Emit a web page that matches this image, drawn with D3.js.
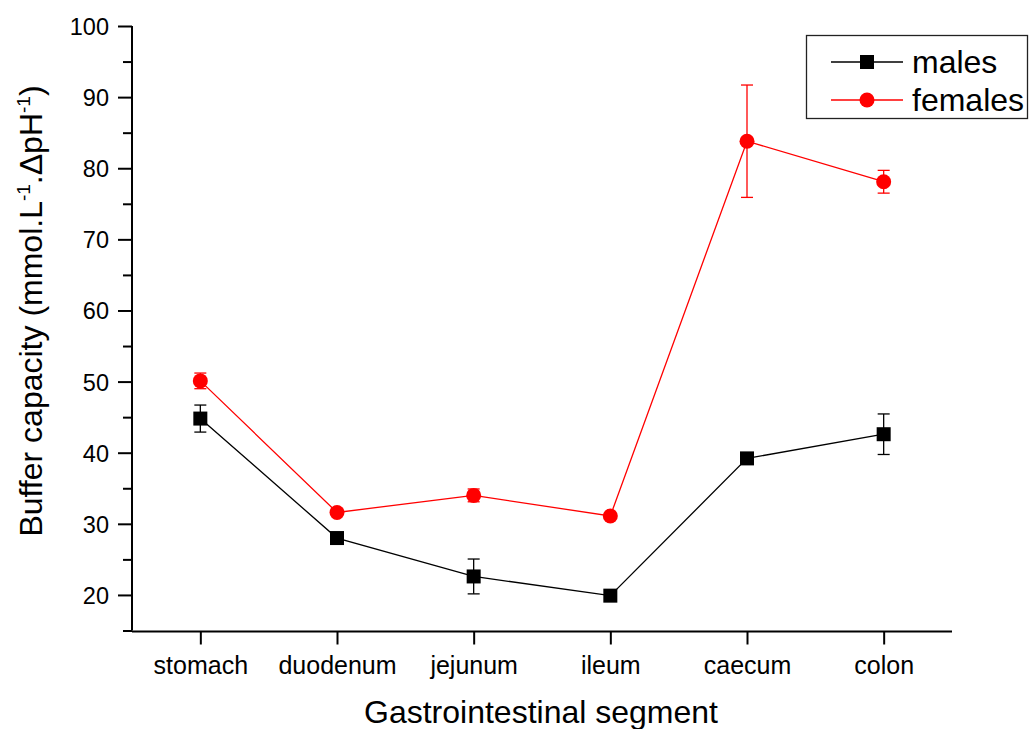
<!DOCTYPE html>
<html>
<head>
<meta charset="utf-8">
<script src="https://cdn.jsdelivr.net/npm/d3@7"></script>
<style>
  html, body { margin: 0; padding: 0; background: #ffffff; }
  svg { display: block; font-family: "Liberation Sans", Arial, sans-serif; }
</style>
</head>
<body>
<svg id="chart" width="1029" height="729"></svg>
<script>
// Buffer capacity along the gastrointestinal tract, mean ± error
const segments = ["stomach", "duodenum", "jejunum", "ileum", "caecum", "colon"];
const malesMean = [44.8, 28.0, 22.6, 19.9, 39.2, 42.6];
const malesErr = [1.9, 0.3, 2.45, 0.3, 0.3, 2.85];
const femalesMean = [50.1, 31.6, 34.0, 31.1, 83.8, 78.1];
const femalesErr = [1.1, 0.3, 0.9, 0.3, 7.9, 1.6];
const yTicks = [20, 30, 40, 50, 60, 70, 80, 90, 100];
const yMinorTicks = [15, 25, 35, 45, 55, 65, 75, 85, 95];

const svg = d3.select("#chart");

const x = d3.scalePoint().domain(segments).range([132, 952]).padding(0.5);
const y = d3.scaleLinear().domain([15, 100]).range([630.5, 26]);

const series = [
  { name: "males", mean: malesMean, err: malesErr, color: "#000000", shape: "square" },
  { name: "females", mean: femalesMean, err: femalesErr, color: "#ff0000", shape: "circle" }
];

// Axes
const yAxis = d3.axisLeft(y).tickValues(yTicks).tickSize(14).tickPadding(9).tickFormat(d3.format("d"));
const yAxisMinor = d3.axisLeft(y).tickValues(yMinorTicks).tickSize(9).tickFormat("");
const xAxis = d3.axisBottom(x).tickSize(13).tickPadding(12);

const gy = svg.append("g").attr("transform", "translate(132,0)").call(yAxis);
svg.append("g").attr("transform", "translate(132,0)").call(yAxisMinor)
  .call(g => g.select(".domain").remove());
const gx = svg.append("g").attr("transform", "translate(0,631.5)").call(xAxis);

[gy, gx].forEach(g => {
  g.select(".domain").attr("stroke", "#000").attr("stroke-width", 2);
});
svg.selectAll(".tick line").attr("stroke", "#000").attr("stroke-width", 2);
gy.selectAll(".tick text").attr("font-size", 23.5).attr("fill", "#000").attr("dy", "0.36em")
  .attr("font-family", "Liberation Sans, Arial, sans-serif");
gx.selectAll(".tick text").attr("font-size", 25).attr("fill", "#000").attr("dy", "0.71em")
  .attr("font-family", "Liberation Sans, Arial, sans-serif");
// axis lines span only the plotting frame, without outer ticks
gx.select(".domain").attr("d", "M132,0H952");
gy.select(".domain").attr("d", "M0,630.5V26");

// Axis titles
svg.append("text")
  .attr("x", 541).attr("y", 723)
  .attr("text-anchor", "middle")
  .attr("font-size", 32)
  .attr("fill", "#000")
  .text("Gastrointestinal segment");

const yTitle = svg.append("text")
  .attr("transform", "translate(42,311) rotate(-90)")
  .attr("text-anchor", "middle")
  .attr("font-size", 32)
  .attr("fill", "#000");
yTitle.append("tspan").text("Buffer capacity (mmol.L");
yTitle.append("tspan").attr("font-size", 19).attr("dy", -12).text("-1");
yTitle.append("tspan").attr("dy", 12).text(".\u0394pH");
yTitle.append("tspan").attr("font-size", 19).attr("dy", -12).text("-1");
yTitle.append("tspan").attr("dy", 12).text(")");

// Lines, error bars and markers
const line = d3.line().x((d, i) => x(segments[i])).y(d => y(d));
const capHalf = 6;

series.forEach(s => {
  const g = svg.append("g");
  g.append("path")
    .datum(s.mean)
    .attr("d", line)
    .attr("fill", "none")
    .attr("stroke", s.color)
    .attr("stroke-width", 1.3);

  const eb = g.selectAll(".err").data(s.mean.map((m, i) => ({ m, e: s.err[i], c: segments[i] })))
    .enter().append("g");
  eb.append("line")
    .attr("x1", d => x(d.c)).attr("x2", d => x(d.c))
    .attr("y1", d => y(d.m + d.e)).attr("y2", d => y(d.m - d.e))
    .attr("stroke", s.color).attr("stroke-width", 1.3);
  [1, -1].forEach(sign => {
    eb.append("line")
      .attr("x1", d => x(d.c) - capHalf).attr("x2", d => x(d.c) + capHalf)
      .attr("y1", d => y(d.m + sign * d.e)).attr("y2", d => y(d.m + sign * d.e))
      .attr("stroke", s.color).attr("stroke-width", 1.3);
  });

  if (s.shape === "square") {
    g.selectAll("rect.mk").data(s.mean).enter().append("rect")
      .attr("x", (d, i) => x(segments[i]) - 7)
      .attr("y", d => y(d) - 7)
      .attr("width", 14).attr("height", 14)
      .attr("fill", s.color);
  } else {
    g.selectAll("circle.mk").data(s.mean).enter().append("circle")
      .attr("cx", (d, i) => x(segments[i]))
      .attr("cy", d => y(d))
      .attr("r", 7.5)
      .attr("fill", s.color);
  }
});

// Legend
const legend = svg.append("g");
legend.append("rect")
  .attr("x", 806.5).attr("y", 35.5).attr("width", 221).attr("height", 83)
  .attr("fill", "#fff").attr("stroke", "#222").attr("stroke-width", 1.3);
series.forEach((s, i) => {
  const ly = 62 + i * 38;
  legend.append("line")
    .attr("x1", 831).attr("x2", 903).attr("y1", ly).attr("y2", ly)
    .attr("stroke", s.color).attr("stroke-width", 1.3);
  if (s.shape === "square") {
    legend.append("rect").attr("x", 860).attr("y", ly - 7).attr("width", 14).attr("height", 14).attr("fill", s.color);
  } else {
    legend.append("circle").attr("cx", 867).attr("cy", ly).attr("r", 7.5).attr("fill", s.color);
  }
  legend.append("text")
    .attr("x", 912).attr("y", ly).attr("dy", "0.35em")
    .attr("font-size", 32).attr("fill", "#000")
    .text(s.name);
});
</script>
</body>
</html>
